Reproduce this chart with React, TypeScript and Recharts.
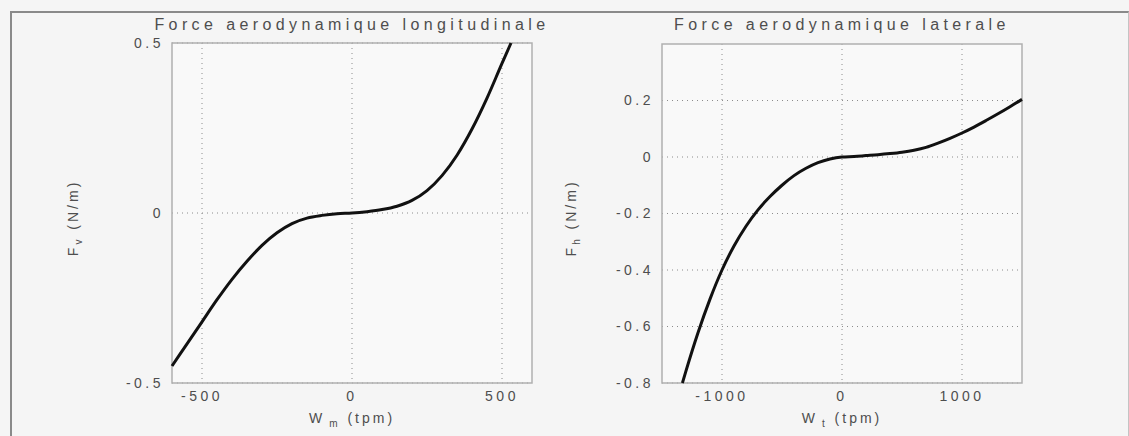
import React from 'react';
import { LineChart, Line, XAxis, YAxis, CartesianGrid, ReferenceArea } from 'recharts';

// Force longitudinale : vitesse W_m (tpm) -> F_v (N/m)
const longSpeed = [-600, -550, -500, -450, -400, -350, -300, -250, -200, -150, -100, -50, 0, 50, 100, 150, 200, 250, 300, 350, 400, 450, 500, 530];
const longForce = [-0.45, -0.385, -0.32, -0.255, -0.195, -0.142, -0.095, -0.058, -0.031, -0.015, -0.007, -0.002, 0, 0.004, 0.01, 0.02, 0.037, 0.066, 0.11, 0.17, 0.247, 0.338, 0.44, 0.5];
const longXTicks = [-500, 0, 500];
const longYTicks = [-0.5, 0, 0.5];

// Force laterale : vitesse W_t (tpm) -> F_h (N/m)
const latSpeed = [-1330, -1300, -1200, -1100, -1000, -900, -800, -700, -600, -500, -400, -300, -200, -100, 0, 100, 200, 300, 400, 500, 600, 700, 800, 900, 1000, 1100, 1200, 1300, 1400, 1500];
const latForce = [-0.8, -0.757, -0.622, -0.503, -0.4, -0.315, -0.245, -0.187, -0.14, -0.1, -0.066, -0.04, -0.02, -0.007, 0, 0.002, 0.005, 0.008, 0.012, 0.017, 0.024, 0.034, 0.049, 0.066, 0.085, 0.106, 0.129, 0.153, 0.178, 0.204];
const latXTicks = [-1000, 0, 1000];
const latYTicks = [-0.8, -0.6, -0.4, -0.2, 0, 0.2];

const longData = longSpeed.map((w, i) => ({ w, f: longForce[i] }));
const latData = latSpeed.map((w, i) => ({ w, f: latForce[i] }));

const FONT = '"Liberation Sans", Arial, sans-serif';
const textColor = '#4e4e4e';
const tickStyle = { fill: textColor, fontSize: 14, fontFamily: FONT, letterSpacing: 3.5 };

const abs = (s: React.CSSProperties): React.CSSProperties => ({
  position: 'absolute',
  fontFamily: FONT,
  color: textColor,
  whiteSpace: 'nowrap',
  ...s,
});

const fmt = (v: number) => String(v);

export default function App() {
  return (
    <div style={{ position: 'absolute', left: 0, top: 0, width: 1129, height: 436, background: '#f5f5f5', overflow: 'hidden' }}>
      {/* cadre */}
      <div style={{ position: 'absolute', left: 10, top: 11, width: 1116, height: 440, borderLeft: '2px solid #8a8a8a', borderTop: '2px solid #8a8a8a', borderRight: '1px solid #c4c4c4' }} />

      <div style={{ position: 'absolute', left: 0, top: 0 }}>
        <LineChart width={560} height={436} data={longData} margin={{ top: 43, right: 28, bottom: 0, left: 0 }}>
          <CartesianGrid
            fill="#f9f9f9"
            stroke="#8c8c8c"
            strokeDasharray="1 4"
            verticalValues={longXTicks}
            horizontalValues={longYTicks}
          />
          <XAxis
            dataKey="w"
            type="number"
            domain={[-600, 600]}
            ticks={longXTicks}
            height={53}
            axisLine={false}
            tickLine={false}
            tickMargin={2}
            tick={tickStyle}
            tickFormatter={fmt}
          />
          <YAxis
            type="number"
            domain={[-0.5, 0.5]}
            ticks={longYTicks}
            width={172}
            axisLine={false}
            tickLine={false}
            tick={tickStyle}
            tickFormatter={fmt}
          />
          <ReferenceArea x1={-600} x2={600} y1={-0.5} y2={0.5} fill="none" stroke="#b0b0b0" strokeWidth={1.5} />
          <Line dataKey="f" type="monotone" stroke="#111" strokeWidth={3} dot={false} isAnimationActive={false} />
        </LineChart>
      </div>

      <div style={{ position: 'absolute', left: 560, top: 0 }}>
        <LineChart width={569} height={436} data={latData} margin={{ top: 44, right: 107, bottom: 0, left: 0 }}>
          <CartesianGrid
            fill="#f9f9f9"
            stroke="#8c8c8c"
            strokeDasharray="1 4"
            verticalValues={latXTicks}
            horizontalValues={latYTicks}
          />
          <XAxis
            dataKey="w"
            type="number"
            domain={[-1500, 1500]}
            ticks={latXTicks}
            height={53}
            axisLine={false}
            tickLine={false}
            tickMargin={2}
            tick={tickStyle}
            tickFormatter={fmt}
          />
          <YAxis
            type="number"
            domain={[-0.8, 0.4]}
            ticks={latYTicks}
            width={102}
            axisLine={false}
            tickLine={false}
            tick={tickStyle}
            tickFormatter={fmt}
          />
          <ReferenceArea x1={-1500} x2={1500} y1={-0.8} y2={0.4} fill="none" stroke="#b0b0b0" strokeWidth={1.5} />
          <Line dataKey="f" type="monotone" stroke="#111" strokeWidth={3} dot={false} isAnimationActive={false} />
        </LineChart>
      </div>

      {/* titres */}
      <div style={abs({ left: 132, top: 16, width: 440, textAlign: 'center', fontSize: 16, lineHeight: '18px', letterSpacing: 4.4 })}>
        Force aerodynamique longitudinale
      </div>
      <div style={abs({ left: 622, top: 16, width: 440, textAlign: 'center', fontSize: 16, lineHeight: '18px', letterSpacing: 4.4 })}>
        Force aerodynamique laterale
      </div>

      {/* etiquettes des axes */}
      <div style={abs({ left: 252, top: 410, width: 200, textAlign: 'center', fontSize: 14, lineHeight: '16px', letterSpacing: 3 })}>
        W<sub style={{ fontSize: 10, marginLeft: 4 }}>m</sub> (tpm)
      </div>
      <div style={abs({ left: 742, top: 410, width: 200, textAlign: 'center', fontSize: 14, lineHeight: '16px', letterSpacing: 3 })}>
        W<sub style={{ fontSize: 10, marginLeft: 4 }}>t</sub> (tpm)
      </div>
      <div style={abs({ left: 16, top: 207, width: 120, textAlign: 'center', fontSize: 14, lineHeight: '16px', letterSpacing: 3, transform: 'rotate(-90deg)' })}>
        F<sub style={{ fontSize: 10 }}>v</sub> (N/m)
      </div>
      <div style={abs({ left: 514, top: 207, width: 120, textAlign: 'center', fontSize: 14, lineHeight: '16px', letterSpacing: 3, transform: 'rotate(-90deg)' })}>
        F<sub style={{ fontSize: 10 }}>h</sub> (N/m)
      </div>
    </div>
  );
}
